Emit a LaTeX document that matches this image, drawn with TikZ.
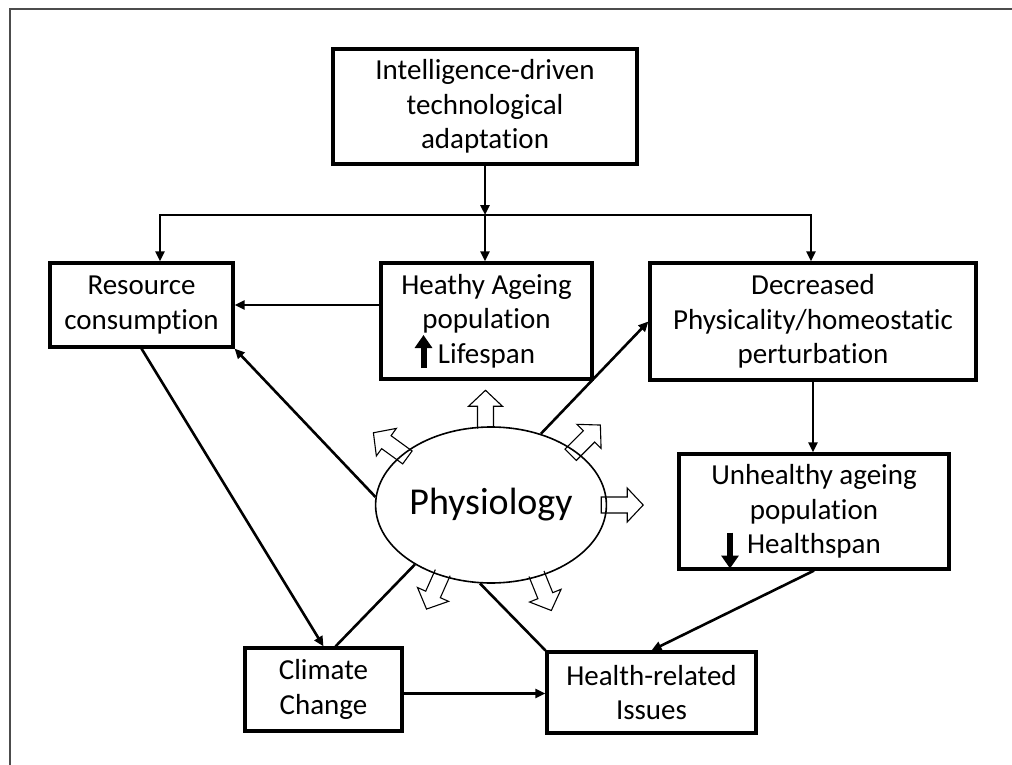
\documentclass[tikz,border=0pt]{standalone}
\usepackage{fontspec}
\setmainfont[Ligatures={NoCommon}]{Carlito}
\usetikzlibrary{arrows.meta,shapes.geometric,calc,backgrounds}
\begin{document}
\begin{tikzpicture}[x=1pt,y=-1pt,
  box/.style={draw,line width=3.2pt,rectangle,inner sep=0pt,align=center,font=\fontsize{29}{34.5}\selectfont},
  conn/.style={line width=2.6pt,-{Triangle[length=10pt,width=9pt]}},
  plainline/.style={line width=2.6pt},
  bigarr/.style={line width=6pt,-{Triangle[length=13pt,width=17pt]}},
  openarr/.pic={\draw[line width=1.1pt,fill=white,line join=miter] (-6,-8) -- (20,-8) -- (20,-17) -- (36,0) -- (20,17) -- (20,8) -- (-6,8) -- cycle;}
]
\useasboundingbox (0,0) rectangle (1012,765);
\draw[line width=2pt,black!70] (10,765) -- (10,9) -- (1012,9);

\node[box,minimum width=304pt,minimum height=115pt] (intel) at (485,106.5) {Intelligence-driven\\technological\\adaptation};
\node[box,minimum width=183pt,minimum height=84pt] (res) at (141.5,305) {Resource\\consumption};
\node[box,minimum width=211pt,minimum height=116pt] (heathy) at (486.5,321) {Heathy Ageing\\population\\Lifespan};
\node[box,minimum width=326pt,minimum height=117pt] (dec) at (813,321.5) {Decreased\\Physicality/homeostatic\\perturbation};
\node[box,minimum width=270pt,minimum height=115pt] (unh) at (814,511.5) {Unhealthy ageing\\population\\Healthspan};
\node[box,minimum width=157pt,minimum height=83pt] (clim) at (323.5,689.5) {Climate\\Change};
\node[box,minimum width=209pt,minimum height=81pt] (hlth) at (651.5,692.5) {Health-related\\Issues};
\node[draw,ellipse,line width=1.6pt,minimum width=206pt,minimum height=156pt,inner sep=0pt,font=\fontsize{38}{44}\selectfont] (phys) at (491,505) {Physiology};

\begin{pgfonlayer}{background}
\pic[rotate=90] at (phys.94) {openarr};
\pic[rotate=144] at (phys.150) {openarr};
\pic[rotate=45] at (phys.33) {openarr};
\pic[rotate=0] at (phys.0) {openarr};
\pic[rotate=246] at (phys.235) {openarr};
\pic[rotate=292] at (phys.303) {openarr};
\fill[white] (phys.center) ellipse [x radius=102pt, y radius=77pt];
\end{pgfonlayer}

\coordinate (bl) at (160,215);
\coordinate (bm) at (485,215);
\coordinate (br) at (811,215);
\draw[conn] (intel.south) -- (bm);
\draw[conn] (bm) -| (bl |- res.north);
\draw[conn] (bm) -| (br |- dec.north);
\draw[conn] (bm) -- (bm |- heathy.north);

\draw[conn] (heathy.west |- res.east) -- (res.east);
\draw[conn] (phys.176) -- (res.south east);
\draw[conn] (res.south) -- (clim.north);
\draw[conn] (phys.55) -- (dec.west);
\draw[plainline] ([xshift=12pt]clim.north) -- (phys.218);
\draw[plainline] (hlth.north west) -- (phys.262);
\draw[conn] (dec.south) -- (dec.south |- unh.north);
\draw[conn] (unh.south) -- (hlth.north);
\draw[conn] ([yshift=-4pt]clim.east) -- ([yshift=-4pt]clim.east -| hlth.west);

\draw[bigarr] ($(heathy.center)+(-63,47)$) -- ++(0,-33);
\draw[bigarr] ($(unh.center)+(-84,21)$) -- ++(0,36);
\end{tikzpicture}
\end{document}
